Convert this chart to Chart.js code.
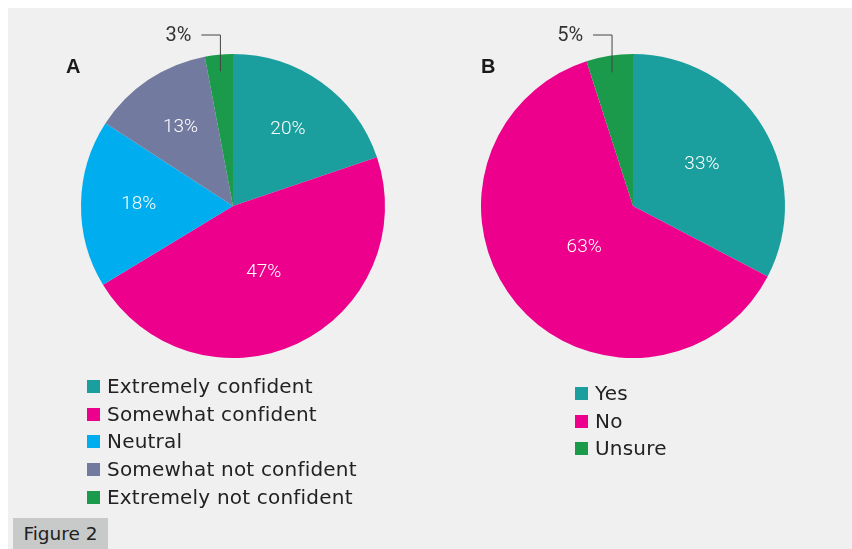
<!DOCTYPE html>
<html>
<head>
<meta charset="utf-8">
<script src="https://cdn.jsdelivr.net/npm/chart.js@4.4.1/dist/chart.umd.min.js"></script>
<style>
  body { margin: 0; width: 852px; height: 549px; background: #fff; position: relative; overflow: hidden; font-family: "DejaVu Sans", sans-serif; }
  #bg { position: absolute; left: 8px; top: 8px; right: 0; bottom: 0; background: #eff0ef; }
  canvas { position: absolute; }
  .letter { position: absolute; font: bold 20px "Liberation Sans", Arial, sans-serif; color: #1a1a1a; }
  .legend { position: absolute; font-size: 20px; letter-spacing: 0.2px; color: #222; }
  .legend div { height: 27.7px; line-height: 27.7px; white-space: nowrap; }
  .legend span { display: inline-block; width: 13px; height: 13px; margin-right: 7px; vertical-align: 0px; }
  #fig { position: absolute; left: 13px; top: 518px; width: 95px; height: 31px; background: #c8c9c9; color: #222; font-size: 18.5px; line-height: 31px; text-align: center; }
</style>
</head>
<body>
<div id="bg"></div>
<canvas id="pieA" width="400" height="400" style="left:33px;top:6px;width:400px;height:400px"></canvas>
<canvas id="pieB" width="400" height="400" style="left:433px;top:6px;width:400px;height:400px"></canvas>
<div class="letter" style="left:66px;top:55px">A</div>
<div class="letter" style="left:481px;top:55px">B</div>
<div class="legend" id="legA" style="left:87px;top:373px"></div>
<div class="legend" id="legB" style="left:575px;top:380px"></div>
<div id="fig">Figure 2</div>
<script>
const labelsA = ['Extremely confident', 'Somewhat confident', 'Neutral', 'Somewhat not confident', 'Extremely not confident'];
const valuesA = [20, 47, 18, 13, 3];
const colorsA = ['#1b9e9e', '#ec008c', '#00aeef', '#737a9f', '#1a9a4a'];

const labelsB = ['Yes', 'No', 'Unsure'];
const valuesB = [33, 63, 5];
const colorsB = ['#1b9e9e', '#ec008c', '#1a9a4a'];

// percent labels: inside for big slices, callout with a bent line for tiny ones
const sliceLabels = {
  id: 'sliceLabels',
  afterDatasetsDraw(chart, args, opts) {
    const ctx = chart.ctx;
    const meta = chart.getDatasetMeta(0);
    const vals = chart.data.datasets[0].data;
    const maxVal = Math.max(...vals);
    meta.data.forEach((arc, i) => {
      const mid = (arc.startAngle + arc.endAngle) / 2;
      const r = arc.outerRadius;
      ctx.save();
      if (vals[i] < 6) {
        const x = arc.x + Math.cos(mid) * r * 0.89;
        const yBot = arc.y + Math.sin(mid) * r * 0.89;
        const yTop = arc.y - r - 19;
        ctx.strokeStyle = '#444';
        ctx.lineWidth = 1;
        ctx.beginPath();
        ctx.moveTo(x - 19, yTop);
        ctx.lineTo(x, yTop);
        ctx.lineTo(x, yBot);
        ctx.stroke();
        ctx.fillStyle = '#333';
        ctx.font = '20px Roboto';
        ctx.textAlign = 'right';
        ctx.textBaseline = 'middle';
        ctx.fillText(vals[i] + '%', x - 29, yTop + 1);
      } else {
        const f = vals[i] === maxVal ? opts.bigRadius : opts.radius;
        ctx.fillStyle = '#fff';
        ctx.font = '300 19px Roboto';
        ctx.textAlign = 'center';
        ctx.textBaseline = 'middle';
        ctx.fillText(vals[i] + '%', arc.x + Math.cos(mid) * r * f, arc.y + Math.sin(mid) * r * f);
      }
      ctx.restore();
    });
  }
};

function makePie(id, labels, values, colors, labelRadius, bigRadius) {
  new Chart(document.getElementById(id), {
    type: 'pie',
    data: { labels: labels, datasets: [{ data: values, backgroundColor: colors, borderWidth: 0 }] },
    options: {
      responsive: false,
      animation: false,
      layout: { padding: 48 },
      plugins: {
        legend: { display: false },
        tooltip: { enabled: false },
        sliceLabels: { radius: labelRadius, bigRadius: bigRadius }
      }
    },
    plugins: [sliceLabels]
  });
}

function makeLegend(id, labels, colors) {
  const el = document.getElementById(id);
  labels.forEach((l, i) => {
    const row = document.createElement('div');
    row.innerHTML = '<span style="background:' + colors[i] + '"></span>' + l;
    el.appendChild(row);
  });
}

makeLegend('legA', labelsA, colorsA);
makeLegend('legB', labelsB, colorsB);
Promise.all([document.fonts.load('300 19px Roboto'), document.fonts.load('20px Roboto')]).finally(() => {
  makePie('pieA', labelsA, valuesA, colorsA, 0.62, 0.48);
  makePie('pieB', labelsB, valuesB, colorsB, 0.53, 0.42);
});
</script>
</body>
</html>
